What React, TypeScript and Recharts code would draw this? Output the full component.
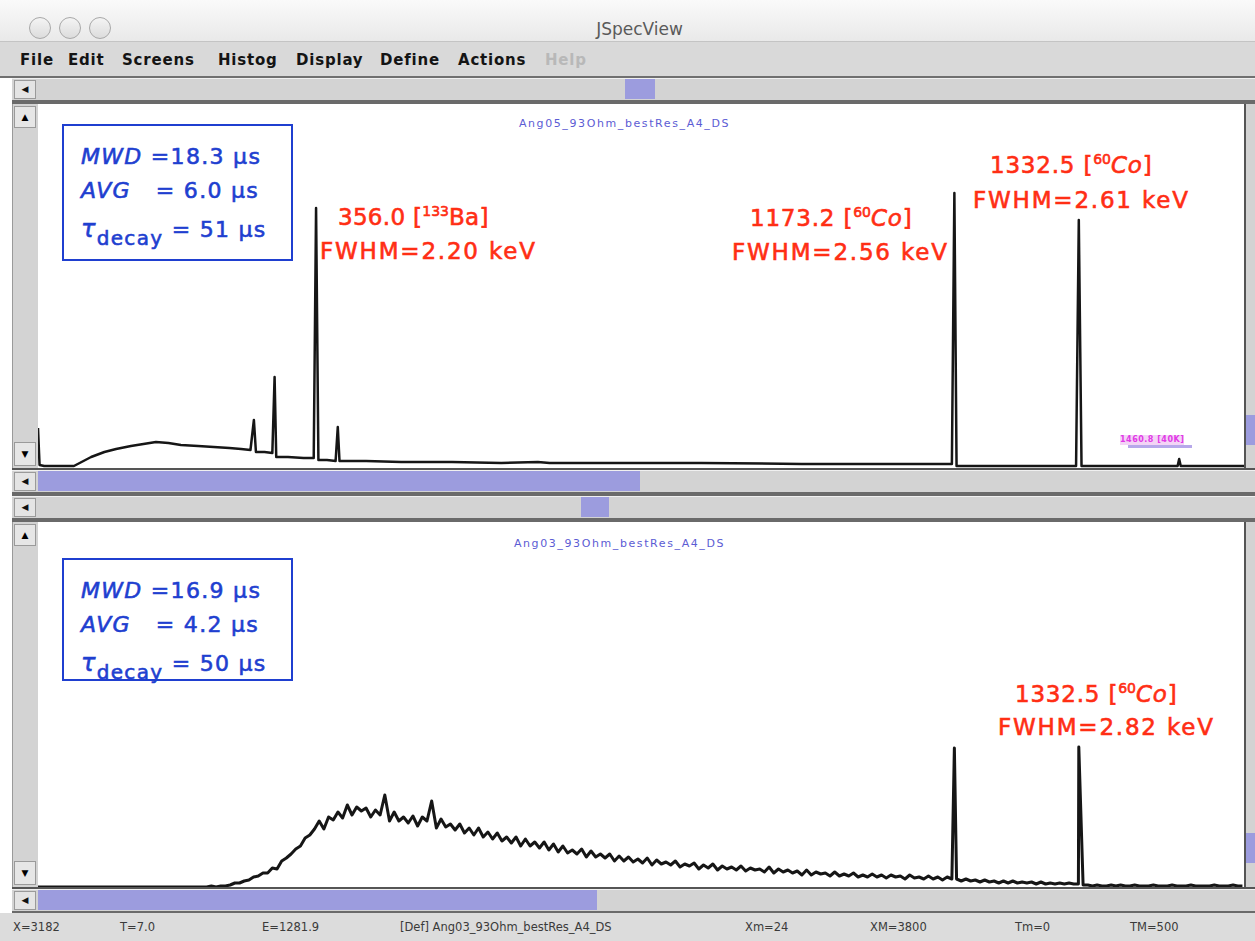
import React from "react";
import { LineChart, Line, XAxis, YAxis } from "recharts";

// upper spectrum (Ang05_93Ohm_bestRes_A4_DS), energy in keV vs counts (display units)
const TOP_ENERGY = [
  0, 2, 8, 46, 68, 85, 100, 119, 135, 151, 167, 183, 205, 225, 245, 260, 272, 276.4, 279, 290,
  300, 302.9, 305, 320, 340, 353, 356.0, 359, 370, 381, 383.8, 386, 420, 465, 530, 593, 640, 655,
  721, 849, 978, 1106, 1170, 1173.2, 1176, 1250, 1329, 1332.5, 1336, 1459, 1461, 1463, 1544,
];
const TOP_COUNTS = [
  40, 3, 2, 2, 11, 16, 19, 22, 24, 26, 25, 23, 22, 21, 20, 19, 18, 48, 16, 16,
  15, 91, 11, 11, 10, 10, 260, 8, 8, 7, 41, 7, 7, 6, 6, 5, 6, 5,
  5, 5, 4, 4, 4, 275, 2, 2, 2, 248, 2, 2, 9, 2, 2,
];

// lower spectrum (Ang03_93Ohm_bestRes_A4_DS), continuum in 6 keV bins from 0 keV
const BOTTOM_BIN_KEV = 6;
const BOTTOM_COUNTS = [
  0, 0, 0, 0, 0, 0, 0, 0, 0, 0,
  0, 0, 0, 0, 0, 0, 0, 0, 0, 0,
  0, 0, 0, 0, 0, 0, 0, 0, 0, 0,
  0, 0, 0, 0, 0, 0, 0, 1, 0, 1,
  1, 2, 4, 4, 6, 7, 10, 11, 14, 14,
  19, 18, 26, 29, 33, 38, 41, 49, 52, 58,
  66, 58, 70, 67, 75, 69, 82, 72, 80, 76,
  79, 70, 77, 72, 92, 66, 75, 66, 70, 64,
  71, 61, 70, 66, 86, 59, 68, 60, 63, 57,
  63, 54, 59, 52, 59, 50, 55, 48, 54, 46,
  50, 44, 50, 41, 48, 41, 45, 39, 45, 37,
  43, 35, 41, 34, 37, 33, 38, 30, 36, 30,
  33, 29, 33, 26, 31, 26, 30, 25, 28, 24,
  29, 22, 27, 23, 25, 22, 26, 20, 23, 21,
  24, 18, 22, 19, 23, 17, 21, 18, 20, 17,
  21, 16, 19, 17, 18, 15, 20, 14, 18, 15,
  17, 14, 16, 12, 17, 12, 15, 13, 14, 11,
  15, 11, 13, 11, 14, 10, 12, 10, 13, 10,
  12, 9, 12, 10, 11, 8, 12, 9, 10, 8,
  11, 8, 10, 7, 10, 8, 8, 6, 8, 6,
  7, 5, 7, 5, 6, 4, 6, 4, 6, 4,
  5, 4, 5, 3, 5, 3, 4, 3, 4, 3,
  4, 3, 3, 2, 2, 1, 2, 1, 1, 2,
  1, 2, 1, 1, 2, 1, 1, 1, 2, 1,
  1, 1, 2, 1, 1, 1, 2, 1, 1, 1,
  1, 2, 1, 1, 1, 2, 1, 1,
];
const BOTTOM_PEAK_ENERGY = [1173.2, 1332.5];
const BOTTOM_PEAK_COUNTS = [139, 140];

const E_MAX = 1544;

const MENU_ITEMS = ["File", "Edit", "Screens", "Histog", "Display", "Define", "Actions", "Help"];
const STATUS_ITEMS = ["X=3182", "T=7.0", "E=1281.9", "[Def] Ang03_93Ohm_bestRes_A4_DS", "Xm=24", "XM=3800", "Tm=0", "TM=500"];

// layout
const MENU_LEFT = [20, 68, 122, 218, 296, 380, 458, 545];
const STATUS_LEFT = [13, 120, 262, 400, 745, 870, 1015, 1130];
const PLOT_LEFT = 38;
const PLOT_WIDTH = 1206;

const topData = TOP_ENERGY.map((e, i) => ({ e, c: TOP_COUNTS[i] }));
const bottomData = BOTTOM_COUNTS.map((c, i) => ({ e: i * BOTTOM_BIN_KEV, c }))
  .concat(BOTTOM_PEAK_ENERGY.map((e, i) => ({ e, c: BOTTOM_PEAK_COUNTS[i] })))
  .sort((a, b) => a.e - b.e);

const RED = "#ff2e14";
const BLUE = "#1f3fd0";
const LAV = "#9c9cde";
const TRACK = "#d3d3d3";
const uiFont = "'DejaVu Sans', 'Liberation Sans', sans-serif";

function abs(left: number, top: number, width: number, height: number, extra: React.CSSProperties = {}): React.CSSProperties {
  return { position: "absolute", left, top, width, height, ...extra };
}

function HScroll({ top, thumbLeft, thumbWidth }: { top: number; thumbLeft: number; thumbWidth: number }) {
  return (
    <>
      <div style={abs(12, top, 1243, 22, { background: TRACK, borderTop: "1px solid #f0f0f0" })} />
      <div style={abs(14, top + 2, 22, 19, { background: "#e4e4e4", border: "1px solid #9a9a9a", boxSizing: "border-box", fontSize: 9, textAlign: "center", lineHeight: "17px", color: "#111" })}>◀</div>
      <div style={abs(thumbLeft, top + 1, thumbWidth, 20, { background: LAV })} />
    </>
  );
}

function Spectrum({ top, height, data, yMax, width }: { top: number; height: number; data: { e: number; c: number }[]; yMax: number; width: number }) {
  return (
    <div style={abs(PLOT_LEFT, top, PLOT_WIDTH, height, { background: "#fff" })}>
      <LineChart width={PLOT_WIDTH} height={height} data={data} margin={{ top: 0, right: 0, left: 0, bottom: 0 }}>
        <XAxis dataKey="e" type="number" domain={[0, E_MAX]} hide allowDataOverflow />
        <YAxis type="number" domain={[0, yMax]} hide allowDataOverflow />
        <Line type="linear" dataKey="c" stroke="#161616" strokeWidth={width} strokeLinejoin="round" dot={false} isAnimationActive={false} />
      </LineChart>
    </div>
  );
}

function SideStrip({ top, height }: { top: number; height: number }) {
  return (
    <>
      <div style={abs(12, top, 26, height, { background: TRACK, borderLeft: "1px solid #9a9a9a", boxSizing: "border-box" })} />
      <div style={abs(14, top + 2, 22, 22, { background: "#e6e6e6", border: "1px solid #9a9a9a", boxSizing: "border-box", fontSize: 9, textAlign: "center", lineHeight: "20px" })}>▲</div>
      <div style={abs(14, top + height - 26, 22, 24, { background: "#e6e6e6", border: "1px solid #9a9a9a", boxSizing: "border-box", fontSize: 9, textAlign: "center", lineHeight: "22px" })}>▼</div>
      <div style={abs(1244, top, 11, height, { background: TRACK, borderLeft: "2px solid #555", boxSizing: "border-box" })} />
    </>
  );
}

function RedLabel({ left, top, spacing = 0.8, children }: { left: number; top: number; spacing?: number; children: React.ReactNode }) {
  return (
    <div style={{ position: "absolute", left, top, fontFamily: uiFont, fontSize: 23, lineHeight: 1, letterSpacing: spacing, color: RED, whiteSpace: "pre", WebkitTextStroke: `0.6px ${RED}` }}>
      {children}
    </div>
  );
}

function Sup({ children }: { children: React.ReactNode }) {
  return <span style={{ fontSize: 14, verticalAlign: 9, letterSpacing: 0 }}>{children}</span>;
}

function ParamBox({ top, height, mwd, avg, tau }: { top: number; height: number; mwd: string; avg: string; tau: string }) {
  const line: React.CSSProperties = { position: "absolute", left: 17, fontFamily: uiFont, fontSize: 22, lineHeight: 1, letterSpacing: 1.3, color: BLUE, whiteSpace: "pre", WebkitTextStroke: `0.6px ${BLUE}` };
  return (
    <div style={abs(62, top, 231, height, { border: `2px solid ${BLUE}`, boxSizing: "border-box", background: "#fff" })}>
      <div style={{ ...line, top: 20 }}><i>MWD</i> ={mwd} µs</div>
      <div style={{ ...line, top: 54 }}><i>AVG</i>   = {avg} µs</div>
      <div style={{ ...line, top: 91 }}>
        <i style={{ fontSize: 24 }}>τ</i>
        <span style={{ fontSize: 20, verticalAlign: -8 }}>decay</span> = {tau} µs
      </div>
    </div>
  );
}

export default function App() {
  return (
    <div style={{ position: "absolute", left: 0, top: 0, width: 1255, height: 941, background: "#fff", overflow: "hidden", fontFamily: uiFont }}>
      {/* title bar */}
      <div style={abs(0, 0, 1255, 42, { background: "linear-gradient(#fafafa, #e9e9e9)", borderBottom: "1px solid #c4c4c4", boxSizing: "border-box" })} />
      {[40, 70, 100].map((cx) => (
        <div key={cx} style={abs(cx - 11, 17, 22, 22, { borderRadius: 11, border: "1.5px solid #a8a8a8", background: "linear-gradient(#f4f4f4, #dcdcdc)", boxSizing: "border-box" })} />
      ))}
      <div style={abs(0, 18, 1255, 22, { textAlign: "center", fontSize: 17, color: "#5a5a5a", lineHeight: "22px", paddingLeft: 24, boxSizing: "border-box" })}>JSpecView</div>

      {/* menu bar */}
      <div style={abs(0, 42, 1255, 34, { background: "#d9d9d9" })} />
      {MENU_ITEMS.map((m, i) => (
        <div key={m} style={{ position: "absolute", left: MENU_LEFT[i], top: 51, fontSize: 15, fontWeight: "bold", letterSpacing: 0.8, color: m === "Help" ? "#b8b8b8" : "#141414", lineHeight: "18px" }}>{m}</div>
      ))}
      <div style={abs(0, 76, 1255, 2, { background: "#707070" })} />

      {/* top scrollbar */}
      <HScroll top={78} thumbLeft={625} thumbWidth={30} />
      <div style={abs(12, 100, 1243, 4, { background: "#6a6a6a" })} />

      {/* top panel */}
      <SideStrip top={104} height={364} />
      <Spectrum top={104} height={364} data={topData} yMax={364} width={2.5} />
      <div style={abs(1246, 415, 9, 30, { background: LAV })} />
      <div style={abs(0, 116, 1255, 16, { textAlign: "center", fontSize: 11, letterSpacing: 1.6, color: "#5c5cd4", lineHeight: "16px", paddingRight: 6, boxSizing: "border-box" })}>Ang05_93Ohm_bestRes_A4_DS</div>
      <ParamBox top={124} height={137} mwd="18.3" avg="6.0" tau="51" />
      <RedLabel left={338} top={204} spacing={0.3}>356.0 [<Sup>133</Sup>Ba]</RedLabel>
      <RedLabel left={320} top={240} spacing={1.8}>FWHM=2.20 keV</RedLabel>
      <RedLabel left={750} top={205}>1173.2 [<Sup>60</Sup><i>Co</i>]</RedLabel>
      <RedLabel left={732} top={241} spacing={1.8}>FWHM=2.56 keV</RedLabel>
      <RedLabel left={990} top={152}>1332.5 [<Sup>60</Sup><i>Co</i>]</RedLabel>
      <RedLabel left={973} top={189} spacing={1.8}>FWHM=2.61 keV</RedLabel>
      <div style={{ position: "absolute", left: 1120, top: 435, fontSize: 8, fontWeight: "bold", color: "#e23ae6", letterSpacing: 0.5, lineHeight: "10px", background: "#f3d4f6" }}>1460.8 [40K]</div>
      <div style={abs(1128, 445, 64, 3, { background: "#b7a8ea" })} />
      <div style={abs(12, 468, 1243, 2, { background: "#555" })} />

      {/* middle scrollbars */}
      <HScroll top={470} thumbLeft={38} thumbWidth={602} />
      <div style={abs(12, 492, 1243, 4, { background: "#6a6a6a" })} />
      <HScroll top={496} thumbLeft={581} thumbWidth={28} />
      <div style={abs(12, 518, 1243, 4, { background: "#6a6a6a" })} />

      {/* bottom panel */}
      <SideStrip top={522} height={365} />
      <Spectrum top={522} height={365} data={bottomData} yMax={365} width={3} />
      <div style={abs(1246, 833, 9, 30, { background: LAV })} />
      <div style={abs(0, 536, 1255, 16, { textAlign: "center", fontSize: 11, letterSpacing: 1.6, color: "#5c5cd4", lineHeight: "16px", paddingRight: 16, boxSizing: "border-box" })}>Ang03_93Ohm_bestRes_A4_DS</div>
      <ParamBox top={558} height={123} mwd="16.9" avg="4.2" tau="50" />
      <RedLabel left={1015} top={681}>1332.5 [<Sup>60</Sup><i>Co</i>]</RedLabel>
      <RedLabel left={998} top={716} spacing={1.8}>FWHM=2.82 keV</RedLabel>
      <div style={abs(12, 887, 1243, 2, { background: "#555" })} />

      {/* bottom scrollbar */}
      <HScroll top={889} thumbLeft={38} thumbWidth={559} />
      <div style={abs(12, 911, 1243, 2, { background: "#6a6a6a" })} />

      {/* status bar */}
      <div style={abs(0, 913, 1255, 28, { background: "#dcdcdc" })} />
      {STATUS_ITEMS.map((s, i) => (
        <div key={s} style={{ position: "absolute", left: STATUS_LEFT[i], top: 919, fontSize: 11.5, color: "#3a3a3a", lineHeight: "16px", whiteSpace: "pre" }}>{s}</div>
      ))}
    </div>
  );
}
